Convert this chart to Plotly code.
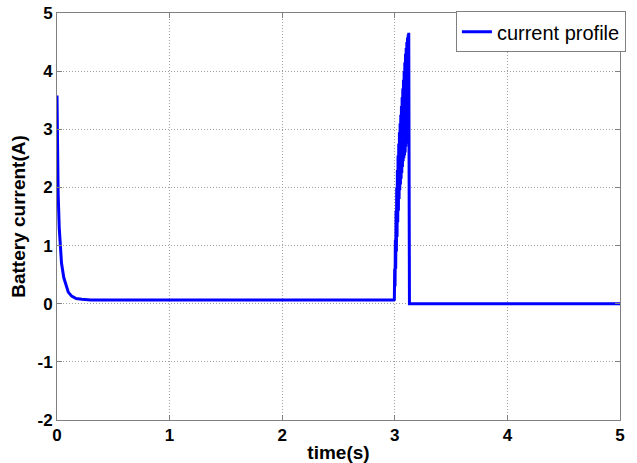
import plotly.graph_objects as go

# Initial decay
t_decay = [0.0, 0.002, 0.005, 0.01, 0.02, 0.03, 0.04, 0.06, 0.08, 0.10, 0.13, 0.17, 0.22, 0.30]
i_decay = [3.58, 3.1, 2.7, 1.9, 1.3, 0.95, 0.70, 0.45, 0.30, 0.20, 0.13, 0.09, 0.075, 0.065]

# Flat section and spike (zigzag between upper and lower envelope)
t_spike = [2.990, 2.996, 2.999, 3.002, 3.005, 3.008, 3.011, 3.014, 3.017, 3.020,
           3.023, 3.026, 3.029, 3.032, 3.035, 3.038, 3.041, 3.044, 3.047, 3.050,
           3.053, 3.056, 3.059, 3.062, 3.065, 3.068, 3.071, 3.074, 3.077, 3.080,
           3.083, 3.086, 3.089, 3.092, 3.095, 3.098, 3.101, 3.104, 3.107, 3.110,
           3.113, 3.116, 3.119, 3.122, 3.124, 3.130]
i_spike = [0.065, 0.07, 0.60, 0.30, 1.10, 0.60, 1.60, 0.90, 2.00, 1.15,
           2.30, 1.40, 2.55, 1.60, 2.75, 1.80, 2.95, 1.95, 3.10, 2.05,
           3.25, 2.15, 3.40, 2.25, 3.55, 2.35, 3.70, 2.45, 3.85, 2.50,
           4.00, 2.55, 4.15, 2.60, 4.30, 2.70, 4.40, 2.75, 4.50, 2.80,
           4.58, 2.85, 4.63, 2.90, 4.66, 0.0]

t_tail = [3.14, 5.0]
i_tail = [0.0, 0.0]

t_all = t_decay + t_spike + t_tail
i_all = i_decay + i_spike + i_tail

x_ticks = [0, 1, 2, 3, 4, 5]
y_ticks = [-2, -1, 0, 1, 2, 3, 4, 5]
y_tick_text = ["-2", "-1", "0", "1", "2", "3", "4", "5"]

fig = go.Figure()
fig.add_trace(go.Scatter(x=t_all, y=i_all, mode="lines", name="current profile",
                         line=dict(color="#0000ff", width=3)))

axis_common = dict(showline=True, linecolor="#808080", linewidth=1, mirror="ticks",
                   ticks="inside", ticklen=5, tickcolor="#808080",
                   showgrid=True, gridcolor="#a0a0a0", griddash="1px,2px", gridwidth=1,
                   zeroline=False, automargin=False,
                   tickfont=dict(family="Arial", size=17, color="black", weight="bold"))

fig.update_xaxes(range=[0, 5], tickvals=x_ticks, **axis_common,
                 title=dict(text="time(s)", standoff=2,
                            font=dict(family="Arial", size=19, color="black", weight="bold")))
fig.update_yaxes(range=[-2, 5], tickvals=y_ticks, ticktext=y_tick_text, **axis_common,
                 title=dict(text="Battery current(A)", standoff=6,
                            font=dict(family="Arial", size=19, color="black", weight="bold")))

fig.update_layout(
    width=637, height=463,
    margin=dict(l=57, r=11, t=13, b=43),
    plot_bgcolor="white", paper_bgcolor="white",
    legend=dict(x=1.0105, y=1.004, xanchor="right", yanchor="top",
                bgcolor="white", bordercolor="#808080", borderwidth=1,
                font=dict(family="Arial", size=20, color="black"),
                itemwidth=30, tracegroupgap=0),
    showlegend=True,
)

fig.write_html("out.html", config={"displayModeBar": False},
               post_script="document.body.style.margin='0';document.body.style.overflow='hidden';")
